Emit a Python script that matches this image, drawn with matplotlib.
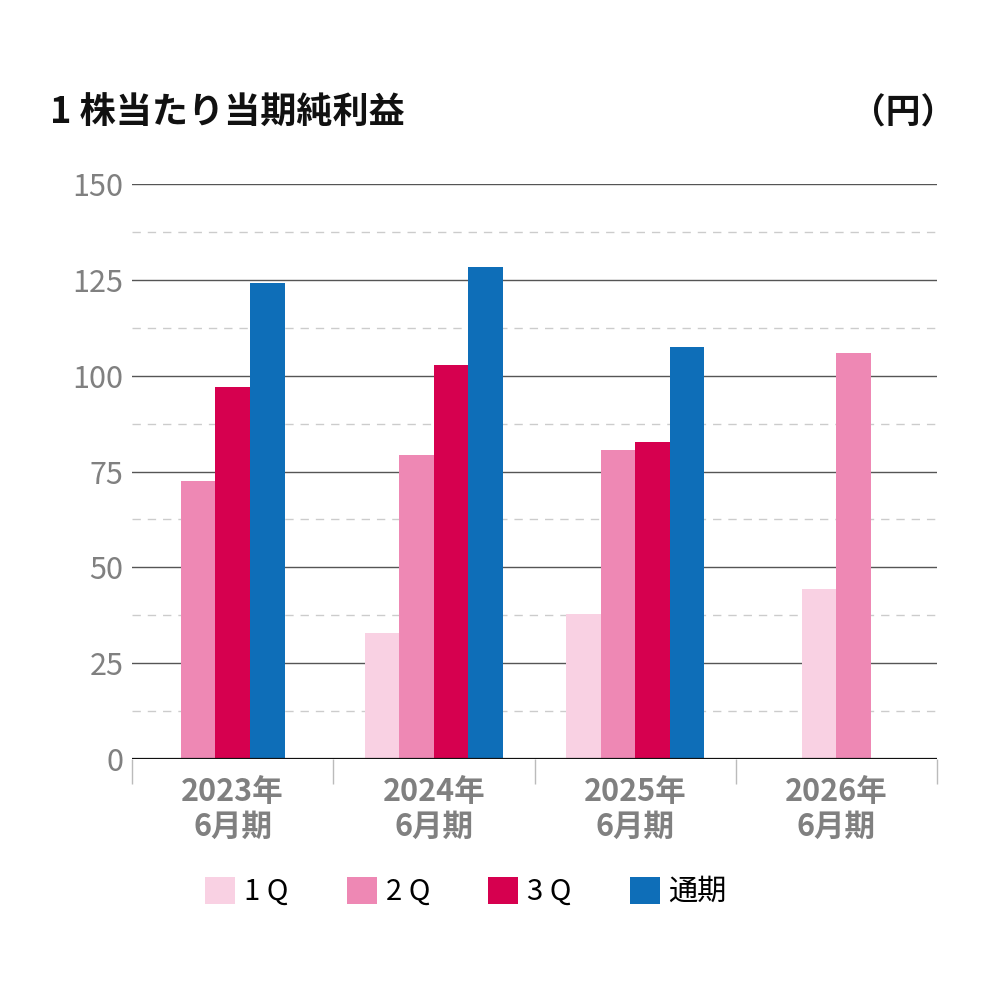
import matplotlib
matplotlib.use("Agg")
import matplotlib.pyplot as plt
import numpy as np
from matplotlib.patches import Patch

plt.rcParams['font.family'] = ['Noto Sans CJK JP', 'DejaVu Sans']

# データ
categories = ['2023年\n6月期', '2024年\n6月期', '2025年\n6月期', '2026年\n6月期']
series_names = ['1 Q', '2 Q', '3 Q', '通期']
q1 = [None, 32.9, 37.8, 44.4]
q2 = [72.5, 79.3, 80.6, 105.9]
q3 = [97.0, 102.8, 82.7, None]
full_year = [124.2, 128.4, 107.5, None]
colors = ['#F9D1E3', '#EE88B4', '#D6004F', '#0E6EB8']

yticks = [0, 25, 50, 75, 100, 125, 150]

fig = plt.figure(figsize=(10, 10), dpi=100)
ax = fig.add_axes([0.132, 0.241, 0.805, 0.575])

all_series = [q1, q2, q3, full_year]
bar_w = 0.172

# 各カテゴリで値のある棒だけを中央寄せで並べる
for ci in range(len(categories)):
    present = [si for si in range(len(all_series)) if all_series[si][ci] is not None]
    n = len(present)
    for k, si in enumerate(present):
        x = ci + (k - (n - 1) / 2) * bar_w
        ax.bar(x, all_series[si][ci], width=bar_w, color=colors[si], zorder=3)

ax.set_xlim(-0.5, len(categories) - 0.5)
ax.set_ylim(0, 150)

# 目盛り線
for v in yticks[1:]:
    ax.axhline(v, color='#555555', lw=1.0, zorder=1)
for v in np.array(yticks[:-1]) + 12.5:
    ax.axhline(v, color='#cccccc', lw=1.0, ls=(0, (6, 5)), zorder=1)
ax.axhline(0, color='#111111', lw=1.6, zorder=4)

for s in ax.spines.values():
    s.set_visible(False)

ax.set_yticks(yticks)
ax.set_yticklabels([str(v) for v in yticks], fontsize=22, color='#808080')
ax.tick_params(axis='y', length=0, pad=6)

ax.set_xticks(range(len(categories)))
ax.set_xticklabels(categories, fontsize=22, color='#808080', fontweight='bold',
                   linespacing=1.12)
ax.tick_params(axis='x', length=0, pad=12)

# カテゴリ境界の目盛り
ax.set_xticks(np.arange(-0.5, len(categories)), minor=True)
ax.tick_params(axis='x', which='minor', length=18, color='#bbbbbb', width=1)

fig.text(0.050, 0.887, '1 株当たり当期純利益', fontsize=26, fontweight='bold',
         color='#111111', va='center', ha='left')
fig.text(0.955, 0.887, '（円）', fontsize=25, fontweight='bold',
         color='#111111', va='center', ha='right')

handles = [Patch(facecolor=c, edgecolor='none') for c in colors]
fig.legend(handles, series_names, loc='center', bbox_to_anchor=(0.466, 0.108),
           ncol=4, frameon=False, fontsize=21, handlelength=1.03,
           handleheight=1.03, handletextpad=0.3, columnspacing=2.0)

fig.savefig('out.png', dpi=100)
